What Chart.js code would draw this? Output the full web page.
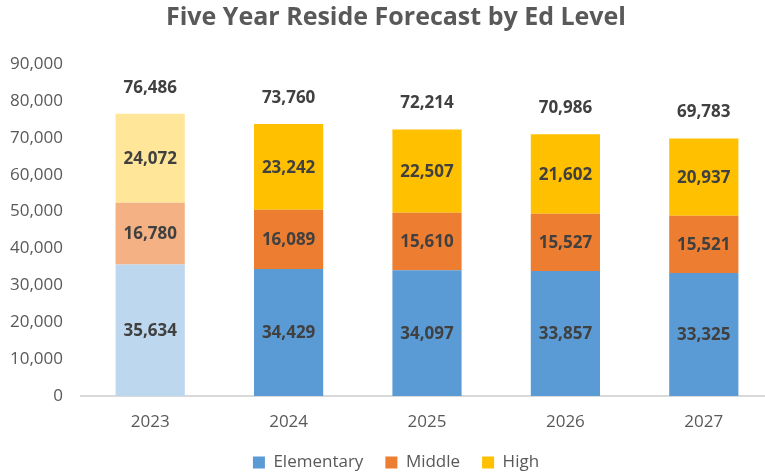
<!DOCTYPE html>
<html>
<head>
<meta charset="utf-8">
<script src="https://cdn.jsdelivr.net/npm/chart.js@4.4.1/dist/chart.umd.min.js"></script>
<style>
html,body{margin:0;padding:0;background:#fff;overflow:hidden;}
#wrap{position:relative;width:792px;height:475px;}
</style>
</head>
<body>
<div id="wrap"><canvas id="c" width="792" height="475"></canvas></div>
<script>
const years = ['2023', '2024', '2025', '2026', '2027'];
const elementary = [35634, 34429, 34097, 33857, 33325];
const middle = [16780, 16089, 15610, 15527, 15521];
const high = [24072, 23242, 22507, 21602, 20937];
const totals = [76486, 73760, 72214, 70986, 69783];
const yTicks = [0, 10000, 20000, 30000, 40000, 50000, 60000, 70000, 80000, 90000];

const FONT = "'Open Sans', 'Noto Sans', sans-serif";
const fmt = v => v.toLocaleString('en-US');

const darkColors = ['#5B9BD5', '#ED7D31', '#FFC000'];
const lightColors = ['#BDD7EE', '#F4B183', '#FFE699'];
const colorsFor = i => years.map((y, k) => k === 0 ? lightColors[i] : darkColors[i]);

const labelPlugin = {
  id: 'valueLabels',
  afterDatasetsDraw(chart) {
    const ctx = chart.ctx;
    ctx.save();
    ctx.font = "bold 17px " + FONT;
    ctx.fillStyle = '#404040';
    ctx.textAlign = 'center';
    ctx.textBaseline = 'middle';
    chart.data.datasets.forEach((ds, di) => {
      const meta = chart.getDatasetMeta(di);
      meta.data.forEach((bar, i) => {
        const cy = (bar.y + bar.base) / 2;
        ctx.fillText(fmt(ds.data[i]), bar.x, cy + 1);
      });
    });
    const yScale = chart.scales.y;
    const xScale = chart.scales.x;
    totals.forEach((t, i) => {
      ctx.fillText(fmt(t), xScale.getPixelForValue(i), yScale.getPixelForValue(t) - 26);
    });
    ctx.restore();
  }
};

new Chart(document.getElementById('c'), {
  type: 'bar',
  data: {
    labels: years,
    datasets: [
      { label: 'Elementary', data: elementary, backgroundColor: colorsFor(0) },
      { label: 'Middle', data: middle, backgroundColor: colorsFor(1) },
      { label: 'High', data: high, backgroundColor: colorsFor(2) }
    ]
  },
  options: {
    responsive: false,
    animation: false,
    layout: { padding: { left: 0, right: 0, top: 0, bottom: -6 } },
    datasets: { bar: { barPercentage: 0.5, categoryPercentage: 1.0 } },
    plugins: {
      title: {
        display: true,
        text: 'Five Year Reside Forecast by Ed Level',
        color: '#595959',
        font: { family: FONT, size: 25, weight: 'bold' },
        padding: { top: 3, bottom: 31 }
      },
      legend: {
        position: 'bottom',
        labels: {
          color: '#595959',
          font: { family: FONT, size: 17 },
          boxWidth: 12,
          boxHeight: 12,
          padding: 22,
          generateLabels: (chart) => chart.data.datasets.map((ds, i) => ({
            text: ds.label,
            fillStyle: darkColors[i],
            strokeStyle: darkColors[i],
            lineWidth: 0,
            fontColor: '#595959',
            hidden: false,
            datasetIndex: i
          }))
        }
      },
      tooltip: { enabled: false }
    },
    scales: {
      x: {
        stacked: true,
        afterFit: (s) => { s.height = 36; },
        grid: { display: false, drawTicks: false },
        border: { display: true, color: '#D9D9D9', width: 2 },
        ticks: { color: '#595959', font: { family: FONT, size: 17 }, padding: 16 }
      },
      y: {
        stacked: true,
        min: 0,
        max: 90000,
        afterBuildTicks: (s) => { s.ticks = yTicks.map(v => ({ value: v })); },
        afterFit: (s) => { s.width = 81; },
        grid: { display: false, drawTicks: false },
        border: { display: false },
        ticks: {
          color: '#595959',
          font: { family: FONT, size: 17 },
          padding: 18,
          callback: (v) => fmt(v)
        }
      },
      yR: {
        position: 'right',
        display: true,
        afterFit: (s) => { s.width = 19; },
        grid: { display: false, drawTicks: false },
        border: { display: false },
        ticks: { display: false }
      }
    }
  },
  plugins: [labelPlugin]
});
</script>
</body>
</html>
